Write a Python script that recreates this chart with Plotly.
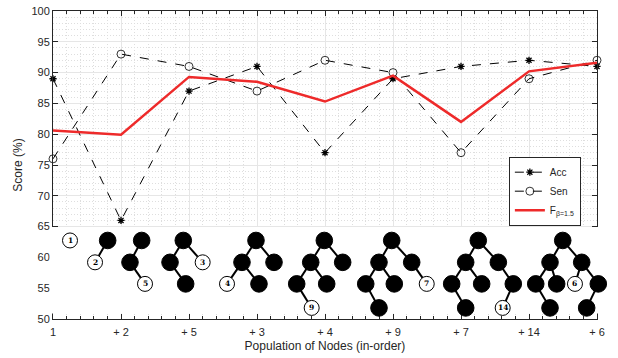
import plotly.graph_objects as go

# ---- data ----
categories = ["1", "+ 2", "+ 5", "+ 3", "+ 4", "+ 9", "+ 7", "+ 14", "+ 6"]
x_pos = [1, 2, 3, 4, 5, 6, 7, 8, 9]
acc = [89, 66, 87, 91, 77, 89, 91, 92, 91]
sen = [76, 93, 91, 87, 92, 90, 77, 89, 92]
f_beta = [80.6, 79.9, 89.3, 88.5, 85.3, 89.5, 82.0, 90.2, 91.6]

# tree illustrations (node x, level, filled?, label) and edges
L0, L1, L2, L3 = 62.75, 59.2, 55.7, 51.8
trees = [
    ([(1.25, L0, False, "1")], []),
    ([(1.804, L0, True, ""), (1.618, L1, False, "2")], [(0, 1)]),
    ([(2.304, L0, True, ""), (2.132, L1, True, ""), (2.353, L2, False, "5")], [(0, 1), (1, 2)]),
    ([(2.916, L0, True, ""), (2.721, L1, True, ""), (3.201, L1, False, "3"), (2.951, L2, True, "")],
     [(0, 1), (0, 2), (1, 3)]),
    ([(3.985, L0, True, ""), (3.779, L1, True, ""), (4.25, L1, True, ""), (4.029, L2, True, ""),
      (3.559, L2, False, "4")], [(0, 1), (0, 2), (1, 3), (1, 4)]),
    ([(4.99, L0, True, ""), (4.79, L1, True, ""), (5.26, L1, True, ""), (5.025, L2, True, ""),
      (4.584, L2, True, ""), (4.804, L3, False, "9")], [(0, 1), (0, 2), (1, 3), (1, 4), (4, 5)]),
    ([(5.981, L0, True, ""), (5.794, L1, True, ""), (6.275, L1, True, ""), (6.019, L2, True, ""),
      (5.599, L2, True, ""), (5.794, L3, True, ""), (6.496, L2, False, "7")],
     [(0, 1), (0, 2), (1, 3), (1, 4), (4, 5), (2, 6)]),
    ([(7.254, L0, True, ""), (7.069, L1, True, ""), (7.549, L1, True, ""), (6.863, L2, True, ""),
      (7.304, L2, True, ""), (7.069, L3, True, ""), (7.769, L2, True, ""), (7.613, L3, False, "14")],
     [(0, 1), (0, 2), (1, 3), (1, 4), (3, 5), (2, 6), (6, 7)]),
    ([(8.496, L0, True, ""), (8.309, L1, True, ""), (8.775, L1, True, ""), (8.099, L2, True, ""),
      (8.407, L2, True, ""), (8.309, L3, True, ""), (8.676, L2, False, "6"), (9.019, L2, True, ""),
      (8.848, L3, True, "")],
     [(0, 1), (0, 2), (1, 3), (1, 4), (3, 5), (2, 6), (2, 7), (7, 8)]),
]

X_RANGE = [1, 9]
Y_RANGE = [50, 100]


def px_(x):
    return (x - X_RANGE[0]) / (X_RANGE[1] - X_RANGE[0])


def py_(y):
    return (y - Y_RANGE[0]) / (Y_RANGE[1] - Y_RANGE[0])


AXC = "#262626"
fig = go.Figure()

fig.add_trace(go.Scatter(
    x=x_pos, y=acc, name="Acc", mode="lines+markers", cliponaxis=False,
    line=dict(color="black", width=1, dash="dash"),
    marker=dict(symbol="asterisk-open", size=6, color="black", line=dict(width=1.3, color="black")),
))
fig.add_trace(go.Scatter(
    x=x_pos, y=sen, name="Sen", mode="lines+markers", cliponaxis=False,
    line=dict(color="black", width=1, dash="dash"),
    marker=dict(symbol="circle-open", size=8, color="black", line=dict(width=0.8, color="black")),
))
fig.add_trace(go.Scatter(
    x=x_pos, y=f_beta, name="F<sub>β=1.5</sub>", mode="lines", cliponaxis=False,
    line=dict(color="#ee2a2a", width=2.5),
))

shapes = []
# white panel hiding the grid in the lower part
shapes.append(dict(type="rect", xref="paper", yref="paper", x0=-0.006, x1=1.006,
                   y0=py_(50.9), y1=py_(64.95),
                   fillcolor="white", line=dict(width=0), layer="above"))
annotations = []
for nodes, edges in trees:
    for a, b in edges:
        shapes.append(dict(type="line", xref="paper", yref="paper",
                           x0=px_(nodes[a][0]), y0=py_(nodes[a][1]),
                           x1=px_(nodes[b][0]), y1=py_(nodes[b][1]),
                           line=dict(color="black", width=2), layer="above"))
    for (nx, ny, filled, lab) in nodes:
        r = 8.3 if filled else 7.5
        shapes.append(dict(type="circle", xref="paper", yref="paper",
                           xsizemode="pixel", ysizemode="pixel",
                           xanchor=px_(nx), yanchor=py_(ny), x0=-r, x1=r, y0=-r, y1=r,
                           fillcolor="black" if filled else "white",
                           line=dict(color="black", width=1), layer="above"))
        if lab:
            annotations.append(dict(x=nx, y=ny, xref="x", yref="y", text="<b>" + lab + "</b>",
                                    showarrow=False,
                                    font=dict(family="DejaVu Serif", size=7.5, color="black")))

fig.update_layout(
    width=618, height=358,
    margin=dict(l=53, r=21, t=11, b=39),
    paper_bgcolor="white", plot_bgcolor="white",
    font=dict(family="Liberation Sans, Arial, sans-serif", size=11, color=AXC),
    showlegend=True,
    legend=dict(x=0.838, y=0.527, xanchor="left", yanchor="top",
                bgcolor="white", bordercolor=AXC, borderwidth=1,
                font=dict(size=10, color=AXC), tracegroupgap=0, itemwidth=30),
    shapes=shapes,
    annotations=annotations,
)

fig.update_xaxes(
    range=X_RANGE, tickmode="array", tickvals=x_pos, ticktext=categories, automargin=False,
    showline=True, linecolor=AXC, linewidth=1, mirror="ticks",
    ticks="inside", ticklen=5, tickcolor=AXC, ticklabelstandoff=3,
    showgrid=True, gridcolor="#e6e6e6", gridwidth=1, zeroline=False,
    minor=dict(tick0=1, dtick=0.2, ticks="inside", ticklen=3, tickcolor=AXC,
               showgrid=True, gridcolor="#dedede", griddash="1px,2px", gridwidth=1),
    title=dict(text="Population of Nodes (in-order)", font=dict(size=12, color=AXC), standoff=4),
    tickfont=dict(size=11, color=AXC),
)
fig.update_yaxes(
    range=Y_RANGE, dtick=5, tick0=50, automargin=False,
    showline=True, linecolor=AXC, linewidth=1, mirror="ticks",
    ticks="inside", ticklen=5, tickcolor=AXC,
    showgrid=True, gridcolor="#e6e6e6", gridwidth=1, zeroline=False,
    minor=dict(dtick=1, ticks="", showgrid=True, gridcolor="#dedede", griddash="1px,2px", gridwidth=1),
    title=dict(text="Score (%)", font=dict(size=12, color=AXC), standoff=6),
    tickfont=dict(size=11, color=AXC),
)

fig.write_html("out.html", config={"displayModeBar": False},
               post_script="document.body.style.margin='0px';")
